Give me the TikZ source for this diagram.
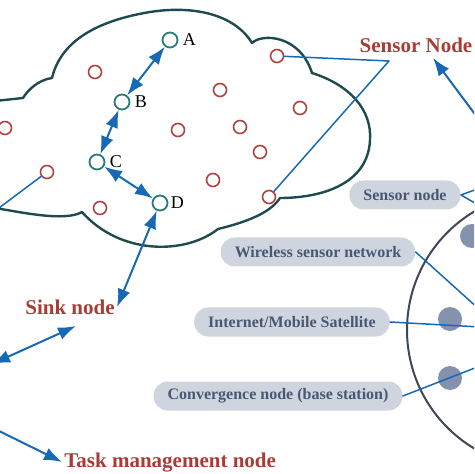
\documentclass[tikz,border=0pt]{standalone}
\usepackage{fontspec}
\setmainfont{Liberation Serif}
\usetikzlibrary{arrows.meta}
\definecolor{cloudline}{HTML}{1F4B50}
\definecolor{sensorred}{HTML}{B0413E}
\definecolor{relayteal}{HTML}{2B7A7A}
\definecolor{linkblue}{HTML}{1769B4}
\definecolor{tagred}{HTML}{A83C37}
\definecolor{pillfill}{HTML}{CFD5DF}
\definecolor{pilltext}{HTML}{4A5774}
\definecolor{dotgray}{HTML}{8592AE}
\definecolor{ringgray}{HTML}{3D4757}
\tikzset{
  sensor/.style={circle, draw=sensorred, fill=white, line width=0.8pt, minimum size=6.5pt, inner sep=0pt},
  relay/.style={circle, draw=relayteal, fill=white, line width=0.9pt, minimum size=7.5pt, inner sep=0pt},
  relaylbl/.style={font=\fontsize{9}{10}\selectfont, text=black, inner sep=1pt},
  tag/.style={font=\fontsize{10.5}{12}\selectfont\bfseries, text=tagred, inner sep=1pt},
  pill/.style={fill=pillfill, rounded corners=7pt, minimum height=14.5pt, inner xsep=7pt,
    font=\fontsize{8}{9}\selectfont\bfseries, text=pilltext},
  gdot/.style={circle, fill=dotgray, minimum size=12pt, inner sep=0pt},
  link/.style={linkblue, line width=1pt},
  thinlink/.style={linkblue, line width=0.75pt}
}
\begin{document}
\begin{tikzpicture}[x=0.5pt, y=-0.5pt, line join=round, line cap=round, >={Latex[length=9pt,width=6.5pt]}]
  \useasboundingbox (0,0) rectangle (474,474);
  \clip (0,0) rectangle (474,474);

  % cloud
  \draw[cloudline, line width=1.2pt] (-5,101) -- (23,98)
    .. controls (28,90) and (38,80) .. (52,78)
    .. controls (60,45) and (90,22) .. (150,12)
    .. controls (195,5) and (235,15) .. (252,43)
    .. controls (262,33) and (300,35) .. (312,73)
    .. controls (350,85) and (372,110) .. (370,140)
    .. controls (368,185) and (320,198) .. (280,198)
    .. controls (272,210) and (255,220) .. (218,229)
    .. controls (185,255) and (120,255) .. (82,212)
    .. controls (65,222) and (20,212) .. (-5,208);

  % sensor nodes
  \foreach \p [count=\i] in {(277,56),(95,72),(220,90),(300,108),(5,128),(178,130),
      (240,127),(260,152),(47,172),(213,180),(100,208),(269,197)}
    \node[sensor] (s\i) at \p {};

  % relay path
  \node[relay, label={[relaylbl, label distance=1pt]right:A}] (A) at (170,40) {};
  \node[relay, label={[relaylbl, label distance=1pt]right:B}] (B) at (122,102) {};
  \node[relay, label={[relaylbl, label distance=1pt]right:C}] (C) at (97,162) {};
  \node[relay, label={[relaylbl]right:D}] (D) at (160,203) {};

  % ring with members
  \draw[ringgray, line width=1pt] (545,330) circle[radius=138];
  \node[gdot] (g1) at (472,236) {};
  \node[gdot] (g2) at (450,319) {};
  \node[gdot] (g3) at (450,378) {};

  % labels
  \node[tag] (sensortag) at (416,45) {Sensor Node};
  \node[tag] (sink) at (70,307) {Sink node};
  \node[tag, anchor=base west] (task) at (62,467) {Task management node};

  \node[pill] (p1) at (405,195) {Sensor node};
  \node[pill] (p2) at (318,252) {Wireless sensor network};
  \node[pill] (p3) at (292,322) {Internet/Mobile Satellite};
  \node[pill] (p4) at (278,396) {Convergence node (base station)};

  % free ends
  \coordinate (vtip) at (389,61);
  \coordinate (snarrow) at (433,58);
  \coordinate (snfar) at (480,121);
  \coordinate (sinkfoot) at (76,326);
  \coordinate (leftfar) at (-8,364);
  \coordinate (taskfar) at (-5,429);
  \coordinate (lout) at (-5,211);
  \coordinate (q1a) at (480,188);
  \coordinate (q1b) at (480,206);
  \coordinate (q2) at (480,310);
  \coordinate (q3) at (480,327);
  \coordinate (q4) at (480,366);

  % connectors
  \draw[link, <->] (A) -- (B);
  \draw[link, <->] (B) -- (C);
  \draw[link, <->] (C) -- (D);
  \draw[link, <->] (D) -- (sink.east);
  \draw[link, <->] (leftfar) -- (sinkfoot);
  \draw[link, ->] (taskfar) -- (task.west);
  \draw[link, ->] (snfar) -- (snarrow);
  \draw[thinlink] (s1) -- (vtip) -- (s12);
  \draw[thinlink] (s9) -- (lout);

  \draw[thinlink] (q1a) -- (p1.east) -- (q1b);
  \draw[thinlink] (p2.east) -- (q2);
  \draw[thinlink] (p3.east) -- (q3);
  \draw[thinlink] (p4.east) -- (q4);
\end{tikzpicture}
\end{document}
